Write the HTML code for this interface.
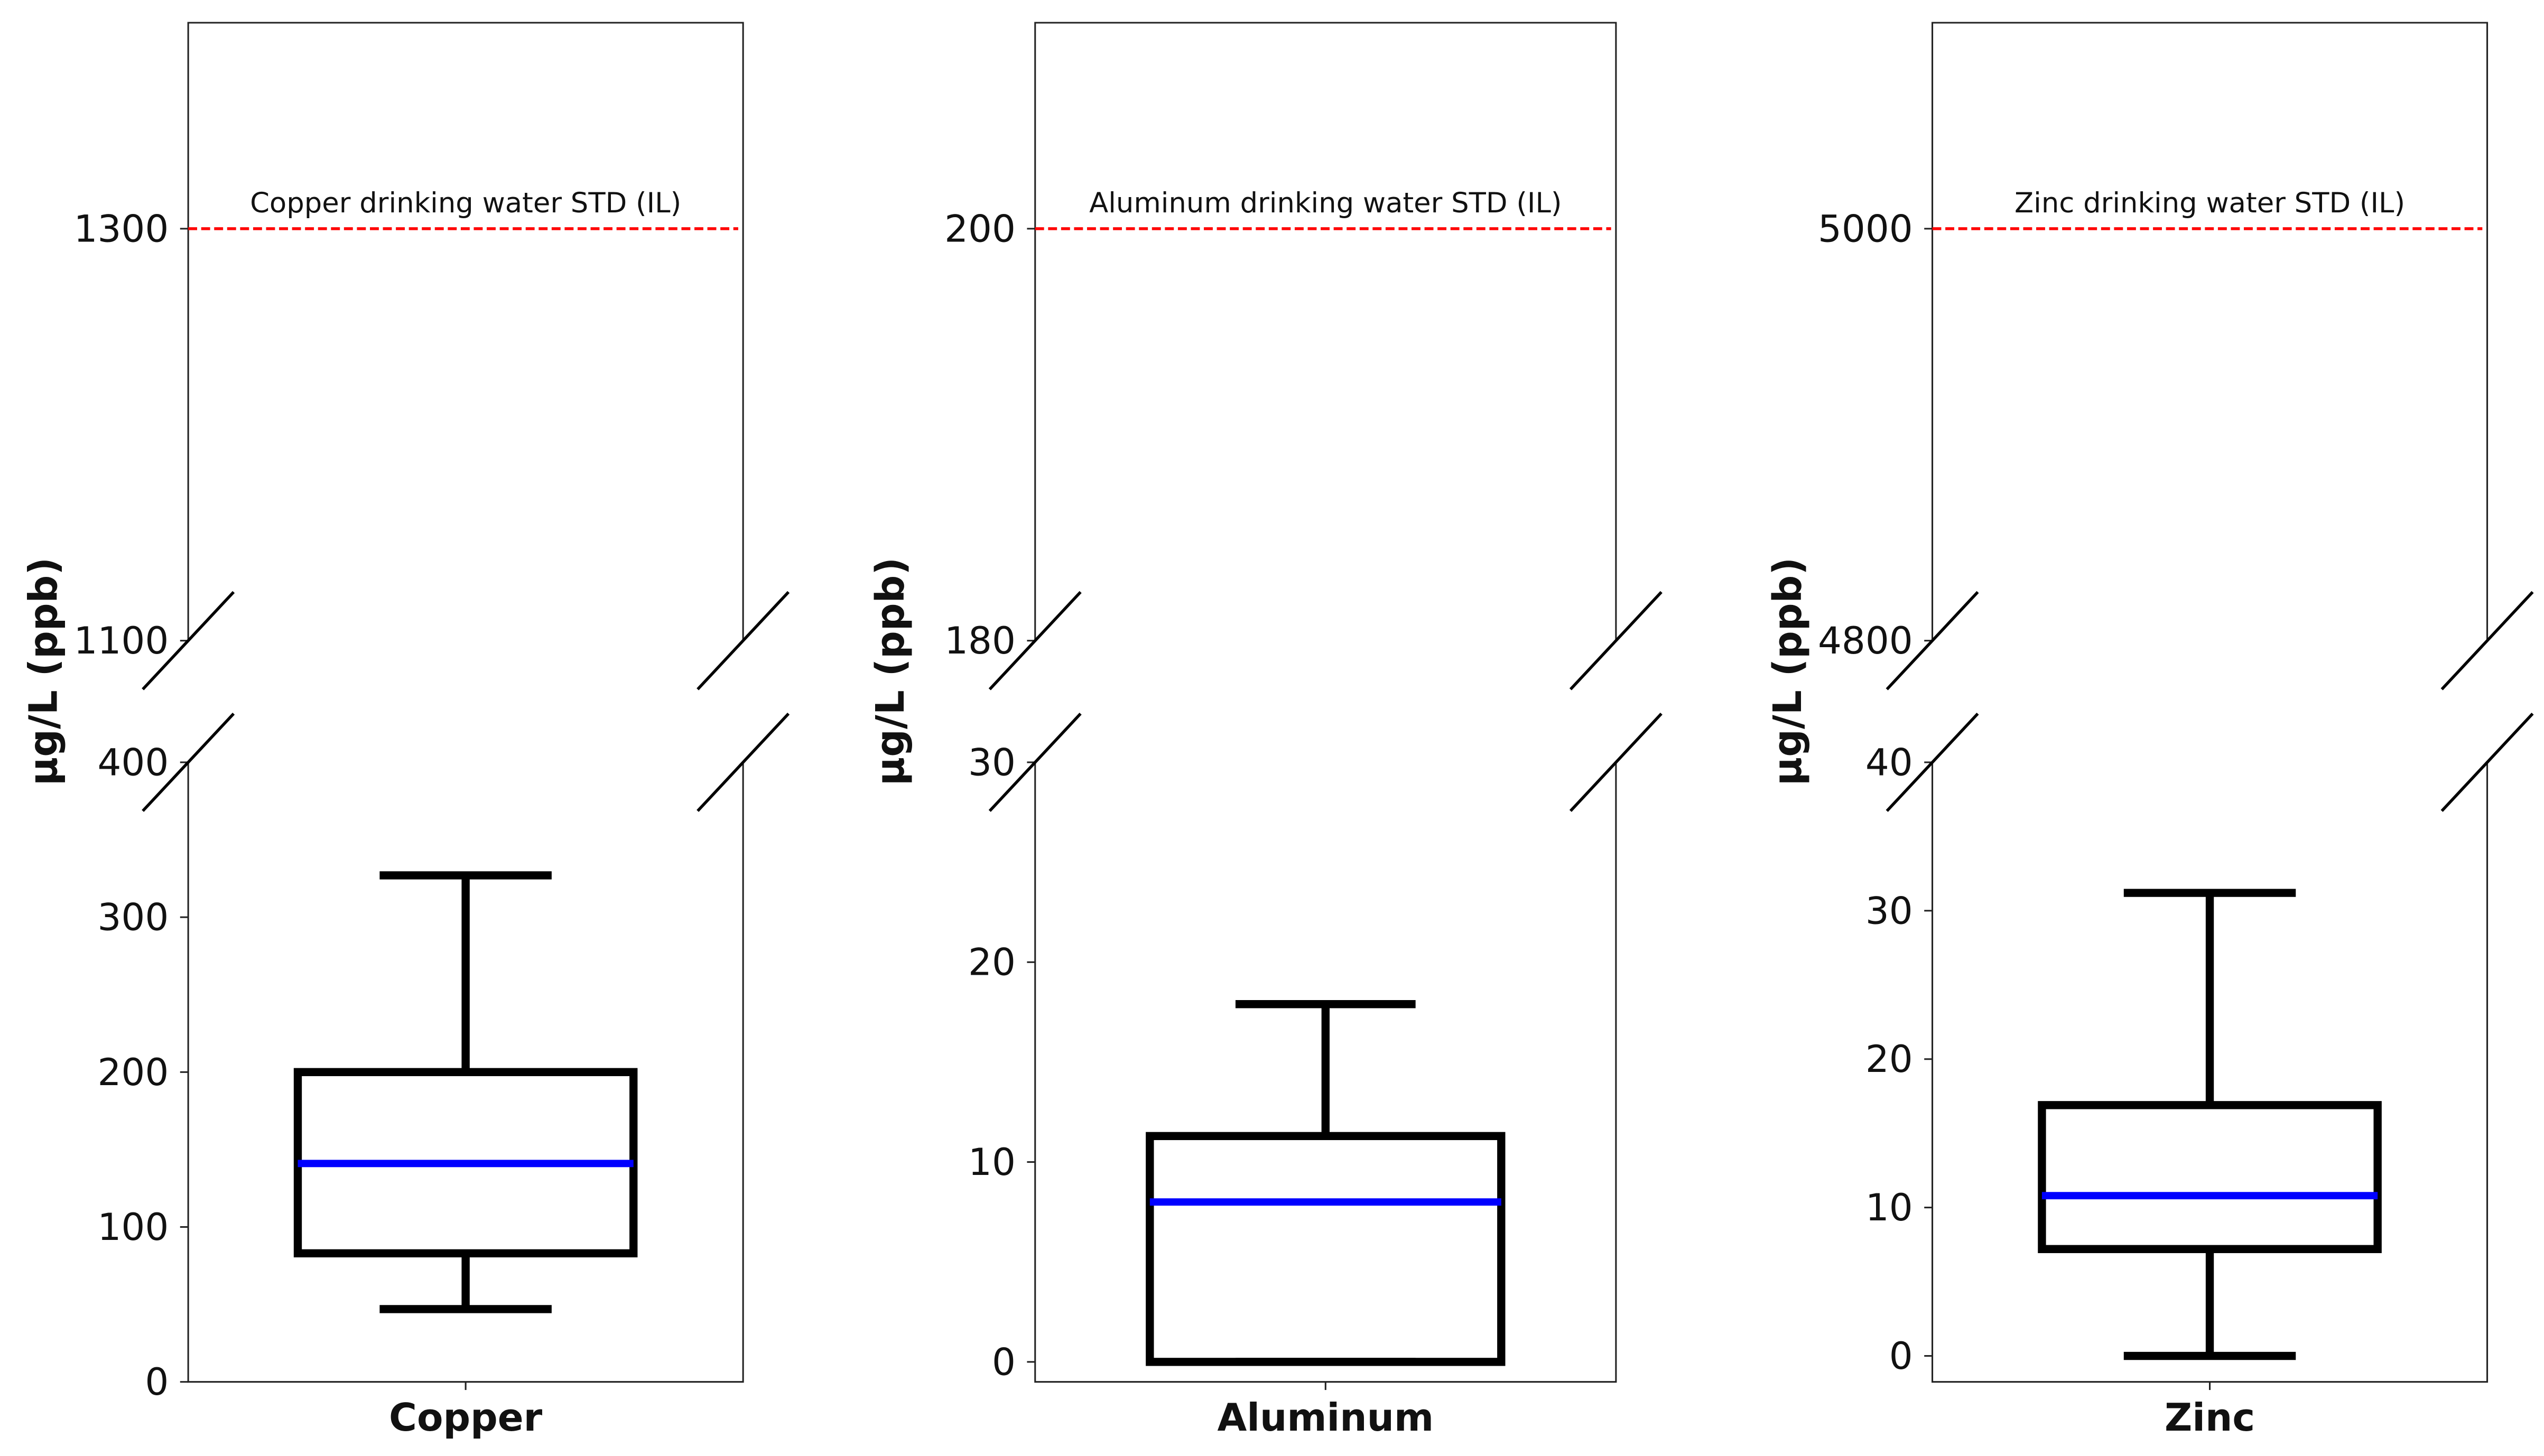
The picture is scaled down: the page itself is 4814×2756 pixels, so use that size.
<!DOCTYPE html>
<html><head><meta charset="utf-8"><style>html,body{margin:0;padding:0;background:#fff}svg{display:block}</style></head>
<body>
<svg id="chart" width="4814" height="2756" viewBox="0 0 1568 897.7" preserveAspectRatio="none" xmlns="http://www.w3.org/2000/svg" font-family="DejaVu Sans, Liberation Sans, sans-serif"></svg>
<script>
const categories = ["Copper", "Aluminum", "Zinc"];
const whiskerLo = [47, 0, 0];
const q1 = [83, 0, 7.2];
const medians = [141, 8.0, 10.8];
const q3 = [200, 11.3, 16.9];
const whiskerHi = [327, 17.9, 31.2];
const stdValues = [1300, 200, 5000];
const stdLabels = ["Copper drinking water STD (IL)", "Aluminum drinking water STD (IL)", "Zinc drinking water STD (IL)"];
const upperMin = [1100, 180, 4800];
const upperMax = [1400, 210, 5100];
const lowerMin = [0, -1, -1.75];
const lowerMax = [400, 30, 40];
const upperTicks = [[1100, 1300], [180, 200], [4800, 5000]];
const lowerTicks = [[0, 100, 200, 300, 400], [0, 10, 20, 30], [0, 10, 20, 30, 40]];

const svg = document.getElementById('chart');
const NS = 'http://www.w3.org/2000/svg';
const panelLeft = [116, 638, 1191];
const panelRight = [458, 996, 1533];
const upTop = 14, upBot = 395, loTop = 470, loBot = 852;

function mk(tag, attrs, parent) {
  const e = document.createElementNS(NS, tag);
  for (const k in attrs) e.setAttribute(k, attrs[k]);
  (parent || svg).appendChild(e);
  return e;
}
function yUp(i, v) { return upBot - (v - upperMin[i]) / (upperMax[i] - upperMin[i]) * (upBot - upTop); }
function yLo(i, v) { return loBot - (v - lowerMin[i]) / (lowerMax[i] - lowerMin[i]) * (loBot - loTop); }

categories.forEach((cat, i) => {
  const L = panelLeft[i], R = panelRight[i], W = R - L, cx = (L + R) / 2;
  const g = mk('g', {});
  
  
  const uf = mk('path', {d: `M${L},${upBot} V${upTop} H${R} V${upBot}`, fill: 'none', stroke: '#222', 'stroke-width': 1}, g);
  
  
  const lf = mk('path', {d: `M${L},${loTop} V${loBot} H${R} V${loTop}`, fill: 'none', stroke: '#222', 'stroke-width': 1}, g);
  
  
  upperTicks[i].forEach(t => {
    const y = yUp(i, t);
    mk('line', {x1: L - 5, x2: L, y1: y, y2: y, stroke: '#222', 'stroke-width': 1}, g);
    const tx = mk('text', {x: L - 12, y: y, 'text-anchor': 'end', 'dominant-baseline': 'central', 'font-size': 23, fill: '#111'}, g);
    tx.textContent = t;
    
    
  });
  lowerTicks[i].forEach(t => {
    const y = yLo(i, t);
    mk('line', {x1: L - 5, x2: L, y1: y, y2: y, stroke: '#222', 'stroke-width': 1}, g);
    const tx = mk('text', {x: L - 12, y: y, 'text-anchor': 'end', 'dominant-baseline': 'central', 'font-size': 23, fill: '#111'}, g);
    tx.textContent = t;
    
    
  });
  mk('line', {x1: cx, x2: cx, y1: loBot, y2: loBot + 5, stroke: '#222', 'stroke-width': 1}, g);
  const xl = mk('text', {x: cx, y: 882, 'text-anchor': 'middle', 'font-size': 23.5, 'font-weight': 'bold', fill: '#111'}, g);
  xl.textContent = cat;
  
  
  const yl = mk('text', {x: 0, y: 0, transform: `translate(${L - 89},414) rotate(-90)`, 'text-anchor': 'middle', 'dominant-baseline': 'central', 'font-size': 24, 'font-weight': 'bold', fill: '#111'}, g);
  yl.textContent = 'µg/L (ppb)';
  
  
  [L, R].forEach(x => {
    [upBot, loTop].forEach(y => {
      const b = mk('line', {x1: x - 28, y1: y + 30, x2: x + 28, y2: y - 30, stroke: '#000', 'stroke-width': 1.8}, g);
      
      
    });
  });
  const sy = yUp(i, stdValues[i]);
  const sl = mk('line', {x1: L, x2: R - 3, y1: sy, y2: sy, stroke: '#f00', 'stroke-width': 1.8, 'stroke-dasharray': '5.5,2.5'}, g);
  
  
  const st = mk('text', {x: cx, y: 131, 'text-anchor': 'middle', 'font-size': 17.2, fill: '#111'}, g);
  st.textContent = stdLabels[i];
  
  
  const bw = W * 0.605, cw = W * 0.31;
  const yq1 = yLo(i, q1[i]), yq3 = yLo(i, q3[i]);
  const wh = mk('line', {x1: cx, x2: cx, y1: yLo(i, whiskerHi[i]), y2: yq3, stroke: '#000', 'stroke-width': 5}, g);
  
  
  const wl = mk('line', {x1: cx, x2: cx, y1: yq1, y2: yLo(i, whiskerLo[i]), stroke: '#000', 'stroke-width': 5}, g);
  
  
  const ch = mk('line', {x1: cx - cw / 2, x2: cx + cw / 2, y1: yLo(i, whiskerHi[i]), y2: yLo(i, whiskerHi[i]), stroke: '#000', 'stroke-width': 5}, g);
  
  
  const cl = mk('line', {x1: cx - cw / 2, x2: cx + cw / 2, y1: yLo(i, whiskerLo[i]), y2: yLo(i, whiskerLo[i]), stroke: '#000', 'stroke-width': 5}, g);
  
  
  const bx = mk('rect', {x: cx - bw / 2, y: yq3, width: bw, height: yq1 - yq3, fill: 'none', stroke: '#000', 'stroke-width': 5}, g);
  
  
  const ym = yLo(i, medians[i]);
  const md = mk('line', {x1: cx - bw / 2, x2: cx + bw / 2, y1: ym, y2: ym, stroke: '#00f', 'stroke-width': 4.5}, g);
  
  
});
</script>
</body></html>
